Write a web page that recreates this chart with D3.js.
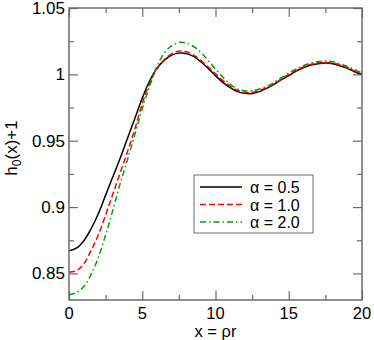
<!DOCTYPE html>
<html>
<head>
<meta charset="utf-8">
<script src="https://cdn.jsdelivr.net/npm/d3@7"></script>
<style>
  body { margin: 0; background: #fff; }
  svg text { font-family: "Liberation Sans", Arial, sans-serif; }
</style>
</head>
<body>
<div class="svg-canvas"></div>
<script>
// x = rho r, sampled every 0.5
var xs = d3.range(0, 20.01, 0.5);

// h0(x)+1 for each alpha
var hAlpha05 = [0.867, 0.869, 0.8745, 0.8835, 0.895, 0.909, 0.923, 0.937, 0.952, 0.967,
                0.982, 0.995, 1.0045, 1.0105, 1.0145, 1.0160, 1.0158, 1.0135, 1.0095, 1.0045,
                0.999, 0.994, 0.990, 0.987, 0.9857, 0.9855, 0.987, 0.9895, 0.9925, 0.996,
                0.999, 1.0025, 1.005, 1.007, 1.008, 1.0085, 1.008, 1.0065, 1.0045, 1.002, 1.000];
var hAlpha10 = [0.851, 0.852, 0.857, 0.867, 0.879, 0.894, 0.910, 0.926, 0.942, 0.959,
                0.978, 0.993, 1.004, 1.011, 1.0155, 1.0175, 1.0172, 1.0145, 1.0105, 1.0055,
                1.0005, 0.9955, 0.991, 0.988, 0.9865, 0.9865, 0.988, 0.990, 0.993, 0.9965,
                1.000, 1.003, 1.0055, 1.0075, 1.0087, 1.009, 1.0085, 1.007, 1.005, 1.0025, 1.0005];
var hAlpha20 = [0.834, 0.8355, 0.840, 0.849, 0.862, 0.879, 0.898, 0.918, 0.936, 0.955,
                0.974, 0.991, 1.006, 1.016, 1.0215, 1.024, 1.0235, 1.021, 1.0165, 1.0105,
                1.004, 0.998, 0.9925, 0.989, 0.9877, 0.9877, 0.989, 0.991, 0.994, 0.9975,
                1.001, 1.004, 1.0065, 1.0085, 1.0097, 1.010, 1.0095, 1.008, 1.006, 1.0035, 1.001];

var seriesNames = ["\u03b1 = 0.5", "\u03b1 = 1.0", "\u03b1 = 2.0"];
var xTicks = [0, 5, 10, 15, 20];
var yTicks = [0.85, 0.9, 0.95, 1, 1.05];
var yTickLabels = ["0.85", "0.9", "0.95", "1", "1.05"];

var W = 374, H = 340;
var m = {top: 8, left: 69, right: 12, bottom: 40};
var pw = W - m.left - m.right, ph = H - m.top - m.bottom;

var svg = d3.select(".svg-canvas").append("svg")
    .attr("width", W)
    .attr("height", H);

var x = d3.scaleLinear().domain([0, 20]).range([m.left, m.left + pw]);
var y = d3.scaleLinear().domain([0.83, 1.05]).range([m.top + ph, m.top]);

var frameCol = "#6b6b6b";

// ticks, inward on all four sides
function ticks(axis, scale, vals, len, transform) {
    var g = svg.append("g").attr("transform", transform)
        .call(axis(scale).tickValues(vals).tickSize(len).tickFormat(""));
    g.select(".domain").remove();
    g.selectAll("line").attr("stroke", frameCol).attr("stroke-width", 1.2);
}
var xMinor = d3.range(2.5, 20, 5), yMinor = d3.range(0.875, 1.05, 0.05);
ticks(d3.axisTop, x, xTicks, 9, "translate(0," + (m.top + ph) + ")");
ticks(d3.axisTop, x, xMinor, 5, "translate(0," + (m.top + ph) + ")");
ticks(d3.axisBottom, x, xTicks, 9, "translate(0," + m.top + ")");
ticks(d3.axisBottom, x, xMinor, 5, "translate(0," + m.top + ")");
ticks(d3.axisRight, y, yTicks, 9, "translate(" + m.left + ",0)");
ticks(d3.axisRight, y, yMinor, 5, "translate(" + m.left + ",0)");
ticks(d3.axisLeft, y, yTicks, 9, "translate(" + (m.left + pw) + ",0)");
ticks(d3.axisLeft, y, yMinor, 5, "translate(" + (m.left + pw) + ",0)");

// tick labels
svg.selectAll(".xl").data(xTicks).enter().append("text")
    .attr("x", function(d){ return x(d); })
    .attr("y", 318.5)
    .attr("text-anchor", "middle")
    .attr("font-size", 16.5)
    .text(function(d){ return d; });
svg.selectAll(".yl").data(yTicks).enter().append("text")
    .attr("x", m.left - 4)
    .attr("y", function(d){ return y(d) + 6; })
    .attr("text-anchor", "end")
    .attr("font-size", 17)
    .text(function(d, i){ return yTickLabels[i]; });

// axis titles
svg.append("text")
    .attr("x", m.left + pw / 2)
    .attr("y", 337)
    .attr("text-anchor", "middle")
    .attr("font-size", 16.5)
    .text("x = \u03c1r");
var yt = svg.append("text")
    .attr("transform", "translate(17," + (m.top + ph / 2 - 6) + ") rotate(-90)")
    .attr("text-anchor", "middle")
    .attr("font-size", 17);
yt.append("tspan").text("h");
yt.append("tspan").attr("font-size", 12).attr("dy", 4).text("0");
yt.append("tspan").attr("dy", -4).text("(x)+1");

// curves
var styles = [
    {col: "#000000", dash: null},
    {col: "#ff0000", dash: "6,3"},
    {col: "#00a000", dash: "6,3,1.5,3"}
];
var allSeries = [hAlpha05, hAlpha10, hAlpha20];
var line = d3.line()
    .x(function(d, i){ return x(xs[i]); })
    .y(function(d){ return y(d); })
    .curve(d3.curveCatmullRom);

svg.append("g").selectAll("path").data(allSeries).enter().append("path")
    .attr("d", line)
    .attr("fill", "none")
    .attr("stroke", function(d, i){ return styles[i].col; })
    .attr("stroke-width", 1.5)
    .attr("stroke-dasharray", function(d, i){ return styles[i].dash; });

// frame
svg.append("rect")
    .attr("x", m.left).attr("y", m.top)
    .attr("width", pw).attr("height", ph)
    .attr("fill", "none")
    .attr("stroke", frameCol)
    .attr("stroke-width", 1.5);

// legend
var lg = svg.append("g").attr("transform", "translate(194,175)");
lg.append("rect")
    .attr("width", 119).attr("height", 58)
    .attr("fill", "#fff")
    .attr("stroke", frameCol)
    .attr("stroke-width", 1);
var rows = lg.selectAll(".row").data(seriesNames).enter().append("g")
    .attr("transform", function(d, i){ return "translate(0," + (12 + i * 17.5) + ")"; });
rows.append("line")
    .attr("x1", 6).attr("x2", 48)
    .attr("stroke", function(d, i){ return styles[i].col; })
    .attr("stroke-width", 1.5)
    .attr("stroke-dasharray", function(d, i){ return styles[i].dash; });
rows.append("text")
    .attr("x", 56).attr("y", 6)
    .attr("font-size", 16)
    .text(function(d){ return d; });
</script>
</body>
</html>
